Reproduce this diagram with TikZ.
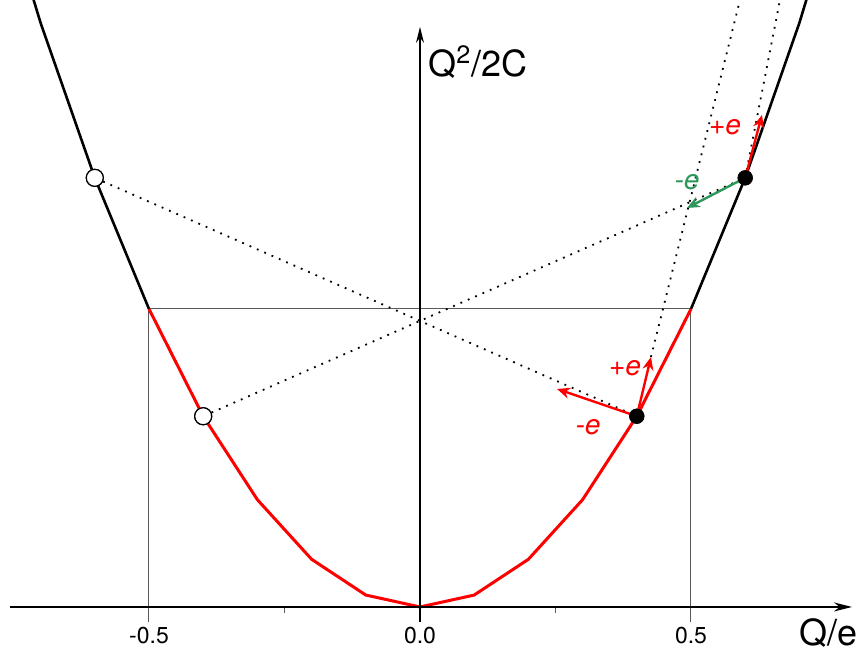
\documentclass[tikz,border=0pt]{standalone}
\usepackage{fontspec}
\setmainfont{TeX Gyre Heros}
\usetikzlibrary{arrows.meta}
\definecolor{jumpgreen}{RGB}{45,150,90}
\tikzset{
 axisline/.style={line width=1pt},
 guide/.style={draw=black!65,line width=.5pt},
 parab/.style={line width=1.3pt},
 redparab/.style={red,line width=1.5pt},
 dotline/.style={line width=.9pt,dash pattern=on .9pt off 3.1pt},
 jump/.style={line width=1.2pt,-{Stealth[length=6.5pt,width=5.5pt]}},
 state/.style={circle,draw,fill=black,line width=.6pt,minimum size=7pt,inner sep=0},
 openstate/.style={circle,draw,fill=white,line width=.6pt,minimum size=8.5pt,inner sep=0},
 ticklabel/.style={font=\fontsize{11.5}{13}\selectfont},
 axislabel/.style={font=\fontsize{18}{20}\selectfont,inner sep=0pt},
 jumplabel/.style={font=\fontsize{14}{16}\selectfont\itshape}
}
\begin{document}
\begin{tikzpicture}[x=271pt,y=596pt]
\path[use as bounding box] (-0.7749,-0.0386) rectangle (0.8100,0.5092);
\coordinate (O) at (0,0);
\coordinate (xs) at (-0.7565,0);
\coordinate (xe) at (0.797,0);
\coordinate (ys) at (0,-0.0126);
\coordinate (ye) at (0,0.4866);
\coordinate (gl) at (-0.5,0.25);
\coordinate (gr) at (0.5,0.25);
\coordinate (gla) at (-0.5,-0.0126);
\coordinate (gra) at (0.5,-0.0126);
\coordinate (lowplus) at (0.4262,0.2097);
\coordinate (lowminus) at (0.2528,0.1829);
\coordinate (upplus) at (0.631,0.4128);
\coordinate (upminus) at (0.4926,0.3347);
\coordinate (topa) at (0.5904,0.5092);
\coordinate (topb) at (0.6642,0.5092);
\node[openstate] (wl) at (-0.6,0.36) {};
\node[openstate] (wr) at (-0.4,0.16) {};
\node[state] (sl) at (0.4,0.16) {};
\node[state] (sr) at (0.6,0.36) {};
\draw[guide] (gl) -- (gr);
\draw[guide] (gl) -- (gla);
\draw[guide] (gr) -- (gra);
\draw[guide] (-0.25,0) -- (-0.25,-0.005);
\draw[guide] (0.25,0) -- (0.25,-0.005);
\draw[dotline] (wl) -- (sl);
\draw[dotline] (wr) -- (sr);
\draw[dotline] (lowplus) -- (topa);
\draw[dotline] (sr.center) -- (topb);
\begin{scope}
\clip (-0.7749,-0.0386) rectangle (0.8100,0.5092);
\draw[parab] plot[domain=0.5:0.8,samples=4] (\x,{\x*\x});
\draw[parab] plot[domain=-0.5:-0.8,samples=4] (\x,{\x*\x});
\end{scope}
\draw[redparab] plot[domain=-0.5:0.5,samples=11] (\x,{\x*\x});
\draw[line width=.7pt,-{Stealth[length=8pt,width=4pt]}] (ys) -- (ye);
\draw[axisline,-{Stealth[length=9pt,width=4.5pt]}] (xs) -- (xe);
\draw[jump,red] (sl.center) -- (lowplus);
\draw[jump,red] (sl.center) -- (lowminus);
\draw[jump,red] (sr.center) -- (upplus);
\draw[jump,jumpgreen] (sr.center) -- (upminus);
\node[state] at (sl) {};
\node[state] at (sr) {};
\node[openstate] at (wl) {};
\node[openstate] at (wr) {};
\node[axislabel] (ylab) at (0.107,0.4572) {Q\textsuperscript{2}/2C};
\node[axislabel] (xlab) at (0.754,-0.0215) {Q/e};
\node[ticklabel] (tm) at (-0.5,-0.0243) {-0.5};
\node[ticklabel] (tz) at (0,-0.0243) {0.0};
\node[ticklabel] (tp) at (0.5,-0.0243) {0.5};
\node[jumplabel,red] (lupplus) at (0.5627,0.4027) {+e};
\node[jumplabel,jumpgreen] (lupminus) at (0.4926,0.3565) {-e};
\node[jumplabel,red] (llowplus) at (0.3782,0.2005) {+e};
\node[jumplabel,red] (llowminus) at (0.31,0.151) {-e};
\end{tikzpicture}
\end{document}
